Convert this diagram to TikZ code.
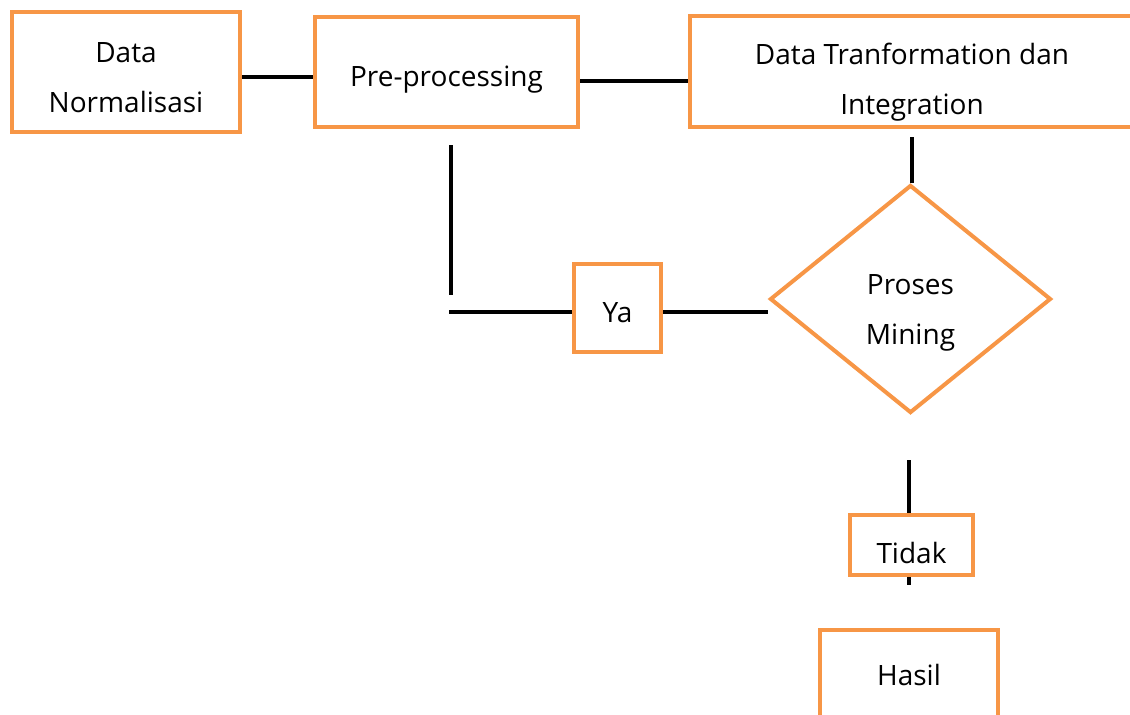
\documentclass[tikz,border=0pt]{standalone}
\usepackage{fontspec}
\setmainfont{Open Sans}
\usepackage{tikz}
\usetikzlibrary{shapes.geometric,backgrounds}
\definecolor{kotak}{HTML}{F79646}
\newcommand{\turun}[1]{\rule{0pt}{#1}}

\begin{document}
\begin{tikzpicture}[x=0.5pt,y=-0.5pt,
        box/.style={draw=kotak,line width=2pt,fill=white,inner sep=0pt,align=center,
            font=\fontsize{14}{25}\selectfont},
        link/.style={line width=2pt}]
            \clip (0,0) rectangle (1130,714);
            % 方框
            \node[box,minimum width=114pt,minimum height=60pt] (norm) at (126,72) {\turun{15.5pt}Data\\Normalisasi};
            \node[box,minimum width=131.5pt,minimum height=55pt] (pre) at (446.5,72) {\turun{17.5pt}Pre-processing};
            \node[box,minimum width=222pt,minimum height=55.5pt] (trans) at (912,71.5) {\turun{21pt}Data Tranformation dan\\Integration};
            \node[box,minimum width=43.5pt,minimum height=44pt] (ya) at (617.5,308) {\turun{14.5pt}Ya};
            \node[box,diamond,minimum width=140.5pt,minimum height=114pt] (mining) at (910.5,299) {\turun{23.5pt}Proses\\Mining};
            \node[box,minimum width=61.5pt,minimum height=30pt] (tidak) at (911.5,545) {\turun{18.5pt}Tidak};
            \node[box,minimum width=89pt,minimum height=45pt] (hasil) at (909,675) {Hasil};
            \coordinate (belok) at (451,295);
            \coordinate (kiri) at (449,312);
            \coordinate (ekor) at (909,585);
            % 连线
            \begin{scope}[on background layer]
                \draw[link] ([yshift=-2.5pt]norm.east) -- ([yshift=-2.5pt]pre.west);
                \draw[link] ([yshift=-4.5pt]pre.east) coordinate (p) -- (p -| trans.west);
                \draw[link,shorten <=4pt] (trans.south) -- (mining.north -| trans.south);
                \draw[link,shorten <=8pt] (pre.south -| belok) -- (belok);
                \draw[link] (kiri) -- (kiri -| ya.west);
                \draw[link] ([yshift=-2pt]ya.east) coordinate (q) -- (q -| mining.west);
                \draw[link,shorten <=22.5pt] (mining.south -| ekor) -- (ekor);
            \end{scope}
        \end{tikzpicture}
\end{document}
